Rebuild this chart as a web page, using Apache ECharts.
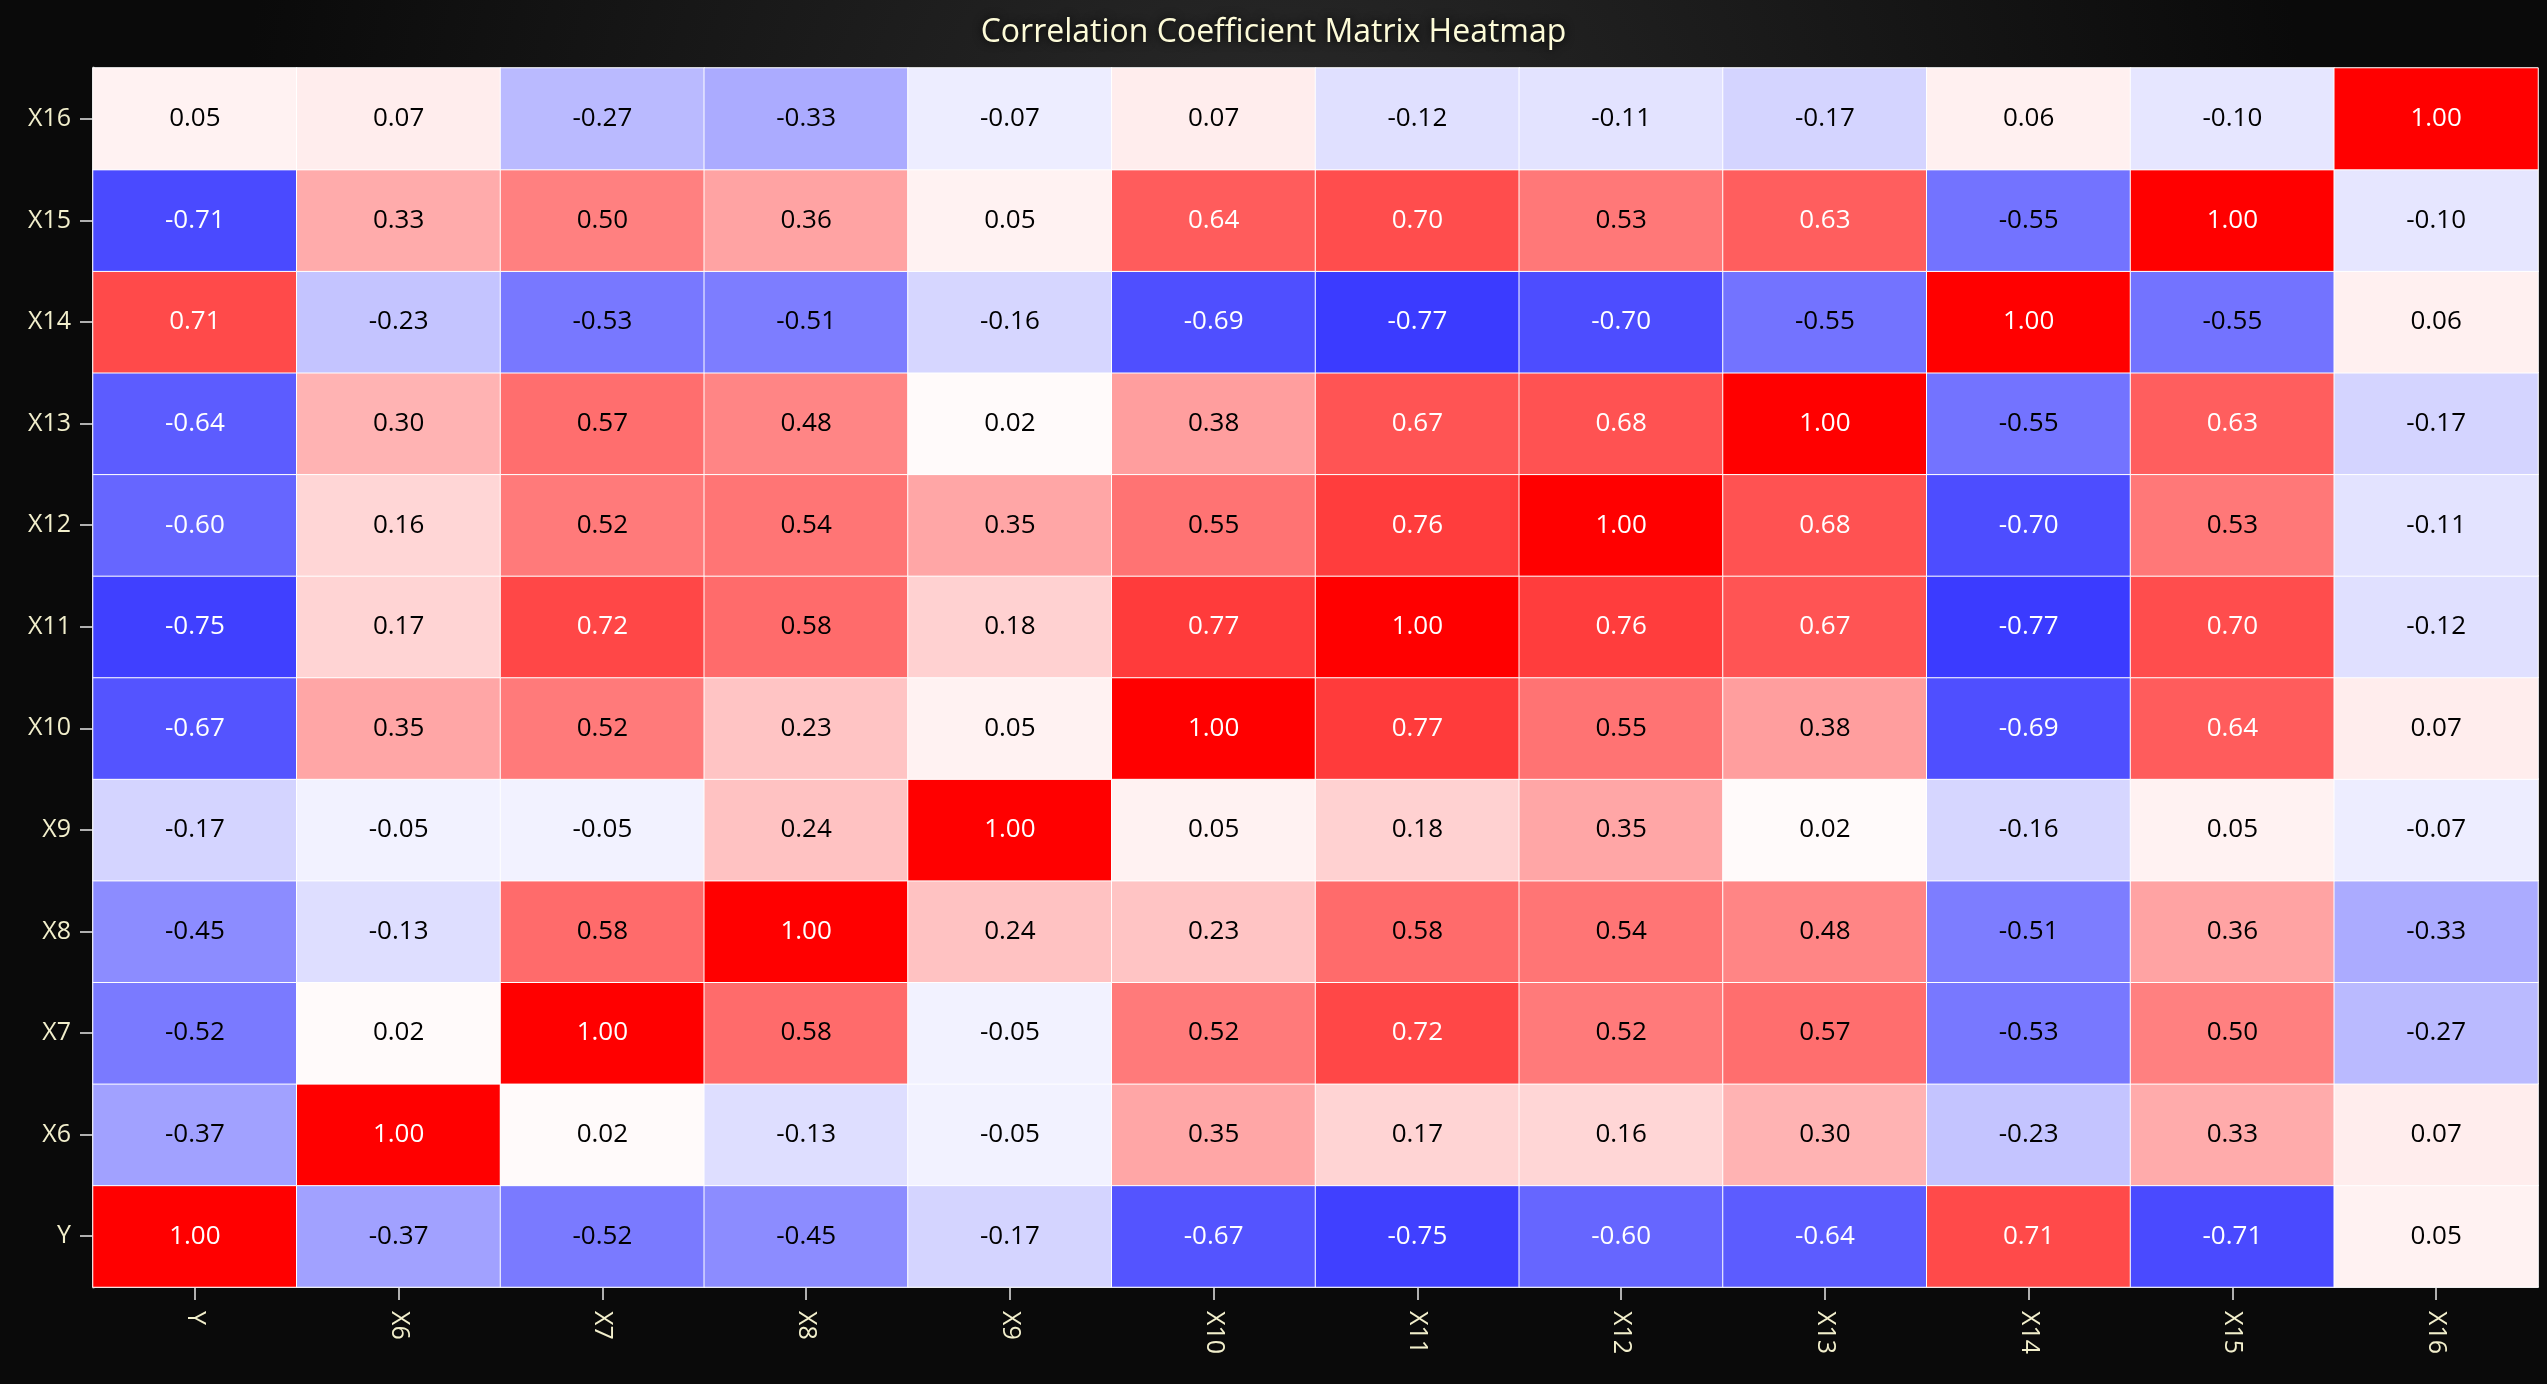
<!DOCTYPE html>
<html lang="en">
<head>
  <meta charset="UTF-8">
  <title>Correlation Coefficient Matrix Heatmap</title>
  <script src="https://cdn.jsdelivr.net/npm/echarts@6/dist/echarts.min.js"></script>
  <style>
    html, body { margin: 0; padding: 0; background: #0a0a0a; }
  </style>
</head>
<body>
<div id="main" style="width: 2547px;height:1384px;"></div>
<script type="text/javascript">
  // variable names, bottom to top on the y axis, left to right on the x axis
  var names = ['Y', 'X6', 'X7', 'X8', 'X9', 'X10', 'X11', 'X12', 'X13', 'X14', 'X15', 'X16'];

  // one row of the correlation matrix per variable
  var rowY   = [1.00, -0.37, -0.52, -0.45, -0.17, -0.67, -0.75, -0.60, -0.64, 0.71, -0.71, 0.05];
  var rowX6  = [-0.37, 1.00, 0.02, -0.13, -0.05, 0.35, 0.17, 0.16, 0.30, -0.23, 0.33, 0.07];
  var rowX7  = [-0.52, 0.02, 1.00, 0.58, -0.05, 0.52, 0.72, 0.52, 0.57, -0.53, 0.50, -0.27];
  var rowX8  = [-0.45, -0.13, 0.58, 1.00, 0.24, 0.23, 0.58, 0.54, 0.48, -0.51, 0.36, -0.33];
  var rowX9  = [-0.17, -0.05, -0.05, 0.24, 1.00, 0.05, 0.18, 0.35, 0.02, -0.16, 0.05, -0.07];
  var rowX10 = [-0.67, 0.35, 0.52, 0.23, 0.05, 1.00, 0.77, 0.55, 0.38, -0.69, 0.64, 0.07];
  var rowX11 = [-0.75, 0.17, 0.72, 0.58, 0.18, 0.77, 1.00, 0.76, 0.67, -0.77, 0.70, -0.12];
  var rowX12 = [-0.60, 0.16, 0.52, 0.54, 0.35, 0.55, 0.76, 1.00, 0.68, -0.70, 0.53, -0.11];
  var rowX13 = [-0.64, 0.30, 0.57, 0.48, 0.02, 0.38, 0.67, 0.68, 1.00, -0.55, 0.63, -0.17];
  var rowX14 = [0.71, -0.23, -0.53, -0.51, -0.16, -0.69, -0.77, -0.70, -0.55, 1.00, -0.55, 0.06];
  var rowX15 = [-0.71, 0.33, 0.50, 0.36, 0.05, 0.64, 0.70, 0.53, 0.63, -0.55, 1.00, -0.10];
  var rowX16 = [0.05, 0.07, -0.27, -0.33, -0.07, 0.07, -0.12, -0.11, -0.17, 0.06, -0.10, 1.00];

  var rows = [rowY, rowX6, rowX7, rowX8, rowX9, rowX10, rowX11, rowX12, rowX13, rowX14, rowX15, rowX16];

  var cells = [];
  rows.forEach(function (row, yi) {
    row.forEach(function (v, xi) {
      cells.push({
        value: [xi, yi, v],
        label: { color: Math.abs(v) >= 0.6 ? '#ffffff' : '#000000' }
      });
    });
  });

  var font = '"Open Sans", "Noto Sans", sans-serif';
  var axisText = '#f2efcc';

  var myChart = echarts.init(document.getElementById('main'));
  myChart.setOption({
    animation: false,
    backgroundColor: {
      type: 'radial', x: 0.5, y: 0.15, r: 0.75,
      colorStops: [
        { offset: 0, color: '#2a2a2a' },
        { offset: 1, color: '#0a0a0a' }
      ]
    },
    title: {
      text: 'Correlation Coefficient Matrix Heatmap',
      left: 'center',
      top: 12,
      textStyle: {
        color: '#fdfbd8',
        fontFamily: font,
        fontSize: 32,
        fontWeight: 'normal',
        textShadowColor: '#000',
        textShadowBlur: 10
      }
    },
    grid: {
      left: 93, right: 9, top: 68, bottom: 97,
      show: true,
      borderColor: '#555',
      borderWidth: 1
    },
    xAxis: {
      type: 'category',
      data: names,
      axisLine: { show: true, lineStyle: { color: '#b0b0b0', width: 2 } },
      axisTick: { show: true, alignWithLabel: true, length: 13, lineStyle: { color: '#b0b0b0', width: 2 } },
      axisLabel: { rotate: -90, margin: 24, color: axisText, fontFamily: font, fontSize: 25 },
      splitLine: { show: false },
      splitArea: { show: false }
    },
    yAxis: {
      type: 'category',
      data: names,
      axisLine: { show: true, lineStyle: { color: '#9a9a9a', width: 3 } },
      axisTick: { show: true, alignWithLabel: true, length: 13, lineStyle: { color: '#b0b0b0', width: 2 } },
      axisLabel: { margin: 22, color: axisText, fontFamily: font, fontSize: 25 },
      splitLine: { show: false },
      splitArea: { show: false }
    },
    visualMap: {
      show: false,
      min: -1,
      max: 1,
      dimension: 2,
      inRange: { color: ['#0000ff', '#ffffff', '#ff0000'] }
    },
    series: [{
      type: 'heatmap',
      data: cells,
      itemStyle: { borderColor: '#ffffff', borderWidth: 1 },
      label: {
        show: true,
        fontFamily: font,
        fontSize: 26,
        formatter: function (p) { return p.value[2].toFixed(2); }
      },
      emphasis: { disabled: true }
    }]
  });
</script>
</body>
</html>
